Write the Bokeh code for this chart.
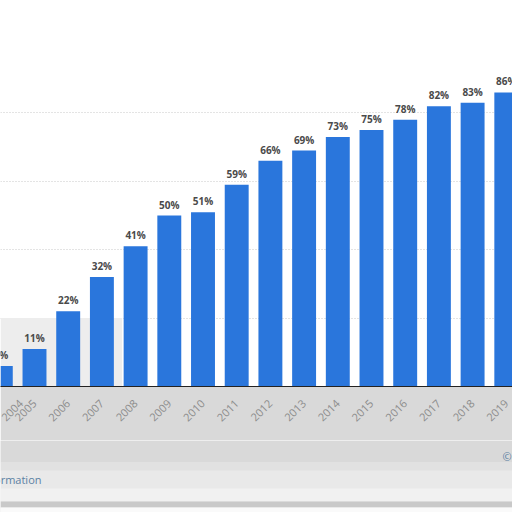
import math
from bokeh.plotting import figure
from bokeh.layouts import column
from bokeh.models import ColumnDataSource, FixedTicker, Label, BoxAnnotation, Range1d
from bokeh.core.properties import value
from bokeh.embed import file_html
from bokeh.resources import INLINE

years = [2004, 2005, 2006, 2007, 2008, 2009, 2010, 2011, 2012, 2013, 2014, 2015, 2016, 2017, 2018, 2019]
shares = [6, 11, 22, 32, 41, 50, 51, 59, 66, 69, 73, 75, 78, 82, 83, 86]
value_labels = [f"{v}%" for v in shares]
grid_ticks = [20, 40, 60, 80]

src = ColumnDataSource(dict(x=years, top=shares, lab=value_labels))

p = figure(width=512, height=440, output_backend="svg", toolbar_location=None,
           x_range=(2003.991, 2019.184), y_range=(0, 112.9),
           min_border_left=0, min_border_right=0, min_border_top=0, min_border_bottom=54)
p.outline_line_color = None
p.background_fill_color = "white"
p.border_fill_color = "#d9d9d9"

# soft grey haze behind the lower-left bars
p.add_layout(BoxAnnotation(right=2007.6, top=20, fill_color="#ededed", fill_alpha=1,
                           line_color=None, level="underlay"))

p.vbar(x="x", top="top", bottom=0, width=0.71, source=src, color="#2a76dc", line_color=None)
p.text(x="x", y="top", text="lab", source=src, text_align="center", text_baseline="bottom",
       y_offset=-4, text_font=value("Open Sans"), text_font_size="10px", text_font_style="bold",
       text_color="#4a4a4a")

p.xaxis.ticker = FixedTicker(ticks=years)
p.xaxis.major_label_orientation = math.pi / 4
p.xaxis.major_label_text_font = "Open Sans"
p.xaxis.major_label_text_font_size = "11px"
p.xaxis.major_label_text_color = "#8c8c8c"
p.xaxis.major_tick_line_color = None
p.xaxis.minor_tick_line_color = None
p.xaxis.axis_line_color = "#222222"
p.xaxis.major_label_standoff = 9
p.xgrid.grid_line_color = None

p.yaxis.visible = False
p.yaxis.ticker = FixedTicker(ticks=grid_ticks)
p.ygrid.ticker = FixedTicker(ticks=grid_ticks)
p.ygrid.grid_line_color = "#c8c8c8"
p.ygrid.grid_line_dash = "1 2"

# footer strip (page pixels, y measured downward)
f = figure(width=512, height=72, output_backend="svg", toolbar_location=None,
           x_range=Range1d(0, 512), y_range=Range1d(512, 440),
           min_border_left=0, min_border_right=0, min_border_top=0, min_border_bottom=0)
f.outline_line_color = None
f.axis.visible = False
f.grid.grid_line_color = None
f.background_fill_color = "#e9e9e9"
f.border_fill_color = "#e9e9e9"
f.add_layout(BoxAnnotation(top=440, bottom=462, fill_color="#d9d9d9", fill_alpha=1, line_color=None))
f.add_layout(BoxAnnotation(top=462, bottom=470, fill_color="#e1e1e1", fill_alpha=1, line_color=None))
f.add_layout(BoxAnnotation(top=488, bottom=501, fill_color="#f1f1f1", fill_alpha=1, line_color=None))
f.add_layout(BoxAnnotation(top=501, bottom=507, fill_color="#c9c9c9", fill_alpha=1, line_color=None))
f.add_layout(BoxAnnotation(top=507, bottom=512, fill_color="#fafafa", fill_alpha=1, line_color=None))
f.add_layout(Label(x=41, y=479, text="Additional Information", text_align="right",
                   text_baseline="middle", text_font="Open Sans", text_font_size="11px",
                   text_color="#5b81a3"))
f.add_layout(Label(x=502, y=456, text="© Statista 2021", text_align="left",
                   text_baseline="middle", text_font="Open Sans", text_font_size="11px",
                   text_color="#5b81a3"))

layout = column(p, f, spacing=0)
open("out.html", "w").write(file_html(layout, INLINE))
